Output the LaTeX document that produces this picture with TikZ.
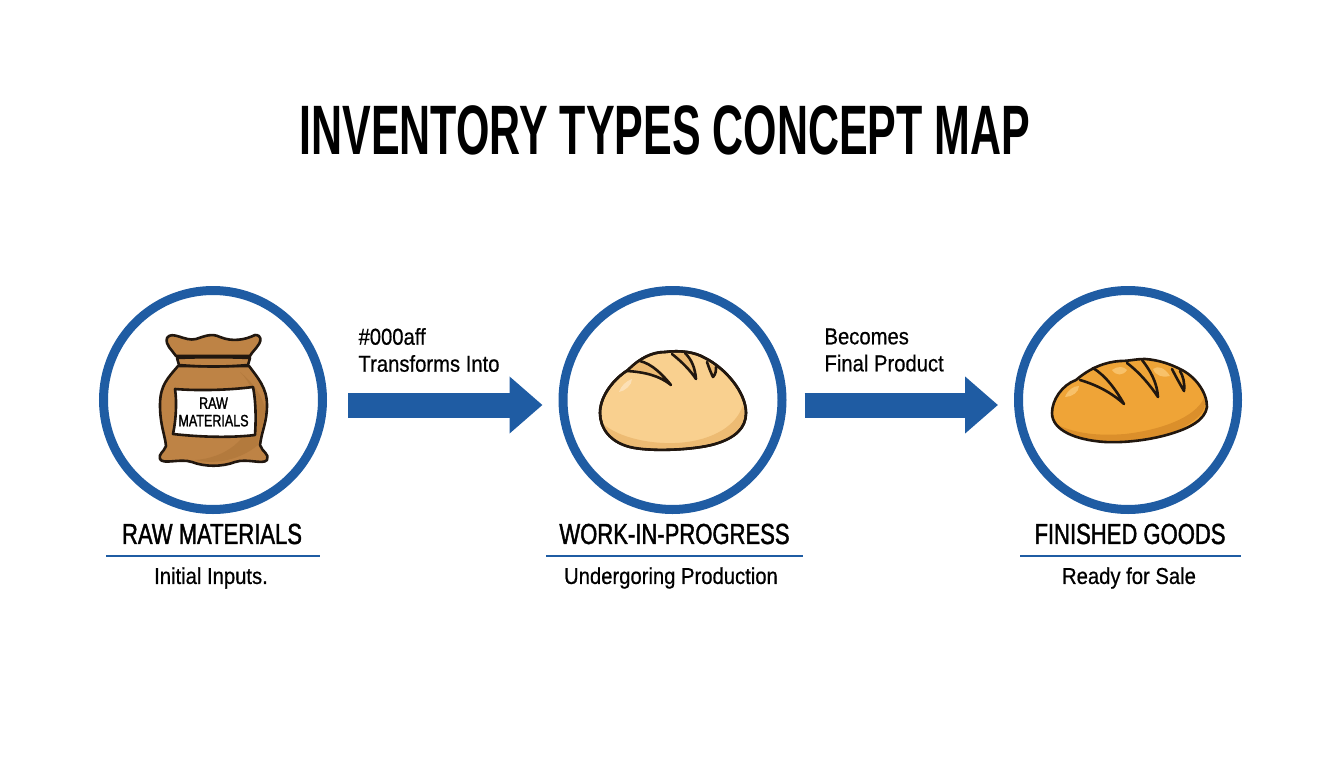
\documentclass[tikz,border=0pt]{standalone}
\usepackage{fontspec}
\setmainfont[FakeStretch=0.88,FakeBold=0.6]{Liberation Sans}
\newfontfamily\headfont[FakeStretch=0.76,FakeBold=1.4]{Liberation Sans}
\newfontfamily\titlefont[FakeStretch=0.614]{Liberation Sans Bold}
\usetikzlibrary{arrows.meta}
\definecolor{mapblue}{HTML}{1F5CA3}
\definecolor{sackbrown}{HTML}{BE8345}
\definecolor{sackdark}{HTML}{B37A3D}
\definecolor{inkline}{HTML}{21170F}
\definecolor{bunfill}{HTML}{F9D08F}
\definecolor{bundark}{HTML}{EDBB73}
\definecolor{bunlight}{HTML}{FCE0B6}
\definecolor{loaffill}{HTML}{EFA437}
\definecolor{loafdark}{HTML}{DB8F2B}
\definecolor{loaflight}{HTML}{F8C169}
\tikzset{
  ring/.style={circle,draw=mapblue,line width=9pt,minimum size=219pt,fill=white},
  flow/.style={-{Triangle[length=33pt,width=55pt]},draw=mapblue,line width=25pt},
  heading/.style={font=\headfont\fontsize{29}{32}\selectfont},
  subhead/.style={font=\fontsize{23}{26}\selectfont},
  flowtext/.style={font=\fontsize{23}{27}\selectfont,align=left,anchor=west},
  rulex/.style={draw=mapblue,line width=1.6pt},
  outline/.style={draw=inkline,line width=2.6pt,line join=round,line cap=round}
}
\begin{document}
\begin{tikzpicture}[x=1pt,y=-1pt]
    \useasboundingbox (0,0) rectangle (1344,768);

    % Title
    \node[font=\titlefont\fontsize{70}{74}\selectfont] (title) at (665,130) {INVENTORY TYPES CONCEPT MAP};

    % Rings
    \node[ring] (raw) at (213,400) {};
    \node[ring] (wip) at (672.5,400) {};
    \node[ring] (fin) at (1128,400) {};

    % Arrows between rings
    \draw[flow,shorten <=21pt,shorten >=16pt] ([yshift=-5pt]raw.east) -- ([yshift=-5pt]wip.west);
    \draw[flow,shorten <=18pt,shorten >=16pt] ([yshift=-5pt]wip.east) -- ([yshift=-5pt]fin.west);
    \node[flowtext] (flowa) at (355,350) {\#000aff\\Transforms Into};
    \node[flowtext] (flowb) at (821,350) {Becomes\\Final Product};

    % Sack: neck flap, body, label
    \path[fill=sackbrown,outline] (178,366) .. controls (168,378) and (160,385) .. (160,405)
        .. controls (160,425) and (165,435) .. (166,446) .. controls (164,452) and (158,454) .. (160,459)
        .. controls (163,465) and (180,458) .. (192,462) .. controls (205,467) and (222,467) .. (235,462)
        .. controls (247,458) and (263,465) .. (267,460) .. controls (270,454) and (262,452) .. (260,445)
        .. controls (262,430) and (267,422) .. (267,405) .. controls (267,388) and (258,378) .. (249,366) -- cycle;
    \path[fill=sackdark] (240,372) .. controls (256,385) and (264,400) .. (265,410)
        .. controls (265,425) and (258,435) .. (258,445) .. controls (240,460) and (215,465) .. (195,460)
        .. controls (225,458) and (250,440) .. (254,410) .. controls (256,395) and (250,382) .. (240,372) -- cycle;
    \path[fill=sackbrown,outline] (176,356) .. controls (172,350) and (165,345) .. (167,338)
        .. controls (172,330) and (185,342) .. (196,339) .. controls (205,336) and (212,333) .. (220,337)
        .. controls (232,342) and (245,340) .. (255,335) .. controls (262,335) and (261,341) .. (259,344)
        .. controls (256,349) and (252,352) .. (250,356) -- cycle;
    \path[fill=sackbrown,outline] (177,358) .. controls (200,357) and (228,357) .. (250,358)
        -- (248,365) .. controls (225,367) and (202,367) .. (179,365) -- cycle;
    \path[fill=white,outline] (175,389) .. controls (200,391) and (230,390) .. (253,387)
        .. controls (256,402) and (256,420) .. (255,435) .. controls (230,438) and (200,437) .. (173,434)
        .. controls (176,420) and (177,402) .. (175,389) -- cycle;
    \node[font=\headfont\fontsize{16.5}{17.5}\selectfont,align=center,inner sep=0pt] (sacktext) at (213.5,412) {RAW\\MATERIALS};

    % Round bun
    \path[fill=bunfill,outline] (600,413) .. controls (600,395) and (615,378) .. (628,370)
        .. controls (640,358) and (652,352) .. (665,352) .. controls (680,350) and (695,352) .. (705,358)
        .. controls (725,368) and (746,392) .. (746,413) .. controls (746,428) and (735,438) .. (715,444)
        .. controls (695,450) and (650,452) .. (630,447) .. controls (610,442) and (600,428) .. (600,413) -- cycle;
    \path[fill=bundark] (603,424) .. controls (620,438) and (650,444) .. (675,443)
        .. controls (705,442) and (735,430) .. (743,405) .. controls (746,415) and (745,428) .. (728,438)
        .. controls (705,449) and (650,451) .. (630,446) .. controls (615,442) and (607,434) .. (603,424) -- cycle;
    \path[fill=bunlight] (619,392) .. controls (621,386) and (626,381) .. (632,379) .. controls (632,385) and (625,391) .. (619,392) -- cycle;
    \path[fill=bundark,outline] (627,371) .. controls (645,372) and (660,376) .. (671,385)
        .. controls (662,374) and (652,364) .. (640,361);
    \path[fill=bundark,outline] (672,354) .. controls (682,362) and (690,370) .. (696,379)
        .. controls (695,368) and (692,360) .. (685,353);
    \path[fill=bundark,outline] (707,362) .. controls (709,368) and (711,373) .. (713,377)
        .. controls (716,374) and (716,370) .. (716,367);
    \draw[outline] (600,413) .. controls (600,395) and (615,378) .. (628,370)
        .. controls (640,358) and (652,352) .. (665,352) .. controls (680,350) and (695,352) .. (705,358)
        .. controls (725,368) and (746,392) .. (746,413) .. controls (746,428) and (735,438) .. (715,444)
        .. controls (695,450) and (650,452) .. (630,447) .. controls (610,442) and (600,428) .. (600,413) -- cycle;

    % Finished loaf
    \path[fill=loaffill] (1052,413) .. controls (1052,400) and (1062,385) .. (1076,380)
        .. controls (1090,368) and (1105,362) .. (1120,361) .. controls (1130,361) and (1135,359) .. (1145,359)
        .. controls (1160,360) and (1172,365) .. (1180,369) .. controls (1195,376) and (1207,392) .. (1207,407)
        .. controls (1205,420) and (1190,428) .. (1170,434) .. controls (1150,440) and (1125,443) .. (1105,442)
        .. controls (1075,440) and (1052,430) .. (1052,413) -- cycle;
    \path[fill=loafdark] (1056,424) .. controls (1075,434) and (1100,436) .. (1125,434)
        .. controls (1160,430) and (1195,418) .. (1204,398) .. controls (1208,410) and (1200,420) .. (1170,434)
        .. controls (1150,440) and (1125,443) .. (1105,442) .. controls (1085,441) and (1065,435) .. (1056,424) -- cycle;
    \path[fill=loaflight] (1065,397) .. controls (1068,390) and (1073,386) .. (1079,386) .. controls (1079,392) and (1072,397) .. (1065,397) -- cycle;
    \path[fill=loaflight] (1112,370) .. controls (1117,366) and (1124,366) .. (1127,370) .. controls (1123,376) and (1116,376) .. (1112,370) -- cycle;
    \path[fill=loaflight] (1153,369) .. controls (1158,365) and (1165,368) .. (1170,376) .. controls (1163,378) and (1156,376) .. (1153,369) -- cycle;
    \path[fill=loaffill,outline] (1080,380) .. controls (1097,385) and (1112,393) .. (1124,404)
        .. controls (1116,390) and (1106,376) .. (1093,368);
    \path[fill=loaffill,outline] (1127,363) .. controls (1140,373) and (1150,385) .. (1158,397)
        .. controls (1157,382) and (1150,370) .. (1142,360);
    \path[fill=loaffill,outline] (1172,369) .. controls (1176,377) and (1180,384) .. (1184,391)
        .. controls (1185,383) and (1183,376) .. (1180,371);
    \draw[outline] (1052,413) .. controls (1052,400) and (1062,385) .. (1076,380)
        .. controls (1090,368) and (1105,362) .. (1120,361) .. controls (1130,361) and (1135,359) .. (1145,359)
        .. controls (1160,360) and (1172,365) .. (1180,369) .. controls (1195,376) and (1207,392) .. (1207,407)
        .. controls (1205,420) and (1190,428) .. (1170,434) .. controls (1150,440) and (1125,443) .. (1105,442)
        .. controls (1075,440) and (1052,430) .. (1052,413) -- cycle;

    % Names under the rings
    \node[heading] (rawname) at (212,534) {RAW MATERIALS};
    \node[heading] (wipname) at (674.5,534) {WORK-IN-PROGRESS};
    \node[heading] (finname) at (1130,534) {FINISHED GOODS};
    \draw[rulex] (106,556) -- (320,556);
    \draw[rulex] (546,556) -- (803,556);
    \draw[rulex] (1020,556) -- (1241,556);
    \node[subhead] (rawsub) at (211,578) {Initial Inputs.};
    \node[subhead] (wipsub) at (671,578) {Undergoring Production};
    \node[subhead] (finsub) at (1129,578) {Ready for Sale};
\end{tikzpicture}
\end{document}
